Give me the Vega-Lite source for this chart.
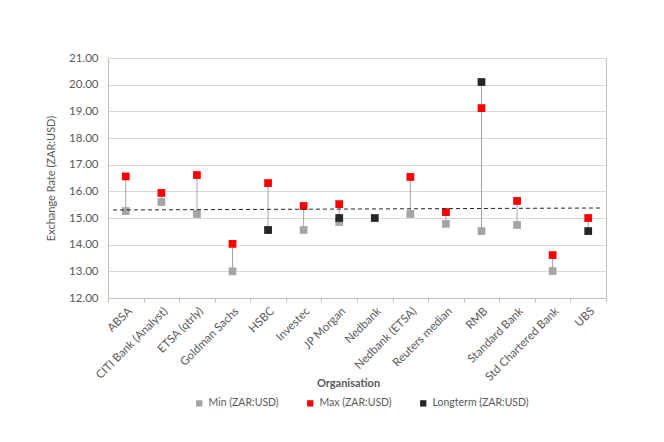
{
  "$schema": "https://vega.github.io/schema/vega-lite/v6.json",
  "width": 498,
  "height": 240,
  "autosize": "none",
  "padding": {"left": 108, "top": 58, "right": 58, "bottom": 144},
  "background": "white",
  "config": {
    "font": "Lato",
    "view": {"stroke": "#bfbfbf", "strokeWidth": 1},
    "axis": {"labelColor": "#595959", "titleColor": "#595959", "labelFontSize": 11.5, "titleFontSize": 11, "gridColor": "#d9d9d9", "domainColor": "#bfbfbf", "tickColor": "#bfbfbf"}
  },
  "datasets": {
    "rates": [
      {"org": "ABSA", "series": "Min (ZAR:USD)", "value": 15.26},
      {"org": "ABSA", "series": "Max (ZAR:USD)", "value": 16.56},
      {"org": "CITI Bank (Analyst)", "series": "Min (ZAR:USD)", "value": 15.6},
      {"org": "CITI Bank (Analyst)", "series": "Max (ZAR:USD)", "value": 15.94},
      {"org": "ETSA (qtrly)", "series": "Min (ZAR:USD)", "value": 15.15},
      {"org": "ETSA (qtrly)", "series": "Max (ZAR:USD)", "value": 16.61},
      {"org": "Goldman Sachs", "series": "Min (ZAR:USD)", "value": 13.0},
      {"org": "Goldman Sachs", "series": "Max (ZAR:USD)", "value": 14.03},
      {"org": "HSBC", "series": "Min (ZAR:USD)", "value": 14.55},
      {"org": "HSBC", "series": "Max (ZAR:USD)", "value": 16.31},
      {"org": "HSBC", "series": "Longterm (ZAR:USD)", "value": 14.55},
      {"org": "Investec", "series": "Min (ZAR:USD)", "value": 14.55},
      {"org": "Investec", "series": "Max (ZAR:USD)", "value": 15.45},
      {"org": "JP Morgan", "series": "Min (ZAR:USD)", "value": 14.85},
      {"org": "JP Morgan", "series": "Max (ZAR:USD)", "value": 15.52},
      {"org": "JP Morgan", "series": "Longterm (ZAR:USD)", "value": 15.0},
      {"org": "Nedbank", "series": "Longterm (ZAR:USD)", "value": 15.0},
      {"org": "Nedbank (ETSA)", "series": "Min (ZAR:USD)", "value": 15.15},
      {"org": "Nedbank (ETSA)", "series": "Max (ZAR:USD)", "value": 16.54},
      {"org": "Reuters median", "series": "Min (ZAR:USD)", "value": 14.78},
      {"org": "Reuters median", "series": "Max (ZAR:USD)", "value": 15.22},
      {"org": "RMB", "series": "Min (ZAR:USD)", "value": 14.51},
      {"org": "RMB", "series": "Max (ZAR:USD)", "value": 19.12},
      {"org": "RMB", "series": "Longterm (ZAR:USD)", "value": 20.1},
      {"org": "Standard Bank", "series": "Min (ZAR:USD)", "value": 14.74},
      {"org": "Standard Bank", "series": "Max (ZAR:USD)", "value": 15.64},
      {"org": "Std Chartered Bank", "series": "Min (ZAR:USD)", "value": 13.01},
      {"org": "Std Chartered Bank", "series": "Max (ZAR:USD)", "value": 13.61},
      {"org": "UBS", "series": "Max (ZAR:USD)", "value": 15.0},
      {"org": "UBS", "series": "Longterm (ZAR:USD)", "value": 14.51}
    ],
    "trend": [
      {"pos": 0.14, "value": 15.3},
      {"pos": 13.83, "value": 15.375}
    ]
  },
  "layer": [
    {
      "data": {"name": "rates"},
      "encoding": {
        "x": {
          "field": "org", "type": "nominal", "sort": null,
          "scale": {"paddingInner": 0, "paddingOuter": 0},
          "axis": {"title": "Organisation", "titleFontWeight": "bold", "titleY": 79, "titleX": 240, "labelAngle": -45, "labelPadding": 3, "tickBand": "extent", "tickSize": 4, "grid": false}
        }
      },
      "layer": [
        {
          "mark": {"type": "rule", "color": "#a5a5a5", "strokeWidth": 1},
          "encoding": {
            "y": {
              "aggregate": "min", "field": "value", "type": "quantitative",
              "scale": {"domain": [12, 21], "nice": false, "zero": false},
              "axis": {"title": "Exchange Rate (ZAR:USD)", "titleFontWeight": "normal", "format": ".2f", "tickCount": 9, "ticks": false, "labelPadding": 10, "titlePadding": 12}
            },
            "y2": {"aggregate": "max", "field": "value"}
          }
        },
        {
          "mark": {"type": "point", "shape": "square", "filled": true, "opacity": 1, "size": 60},
          "encoding": {
            "y": {"field": "value", "type": "quantitative"},
            "color": {
              "field": "series", "type": "nominal",
              "scale": {"domain": ["Min (ZAR:USD)", "Max (ZAR:USD)", "Longterm (ZAR:USD)"], "range": ["#a5a5a5", "#ff0000", "#262626"]},
              "legend": {"title": null, "orient": "none", "direction": "horizontal", "legendX": 86, "legendY": 340, "symbolType": "square", "symbolSize": 40, "labelColor": "#595959", "labelFontSize": 10.5, "columnPadding": 26, "labelOffset": 4}
            },
            "order": {"field": "series", "sort": "descending"}
          }
        }
      ]
    },
    {
      "data": {"name": "trend"},
      "mark": {"type": "line", "color": "#262626", "strokeWidth": 1, "strokeDash": [4, 3]},
      "encoding": {
        "x": {"field": "pos", "type": "quantitative", "scale": {"domain": [0, 14], "nice": false}, "axis": null},
        "y": {"field": "value", "type": "quantitative"}
      }
    }
  ],
  "resolve": {"scale": {"x": "independent"}}
}
